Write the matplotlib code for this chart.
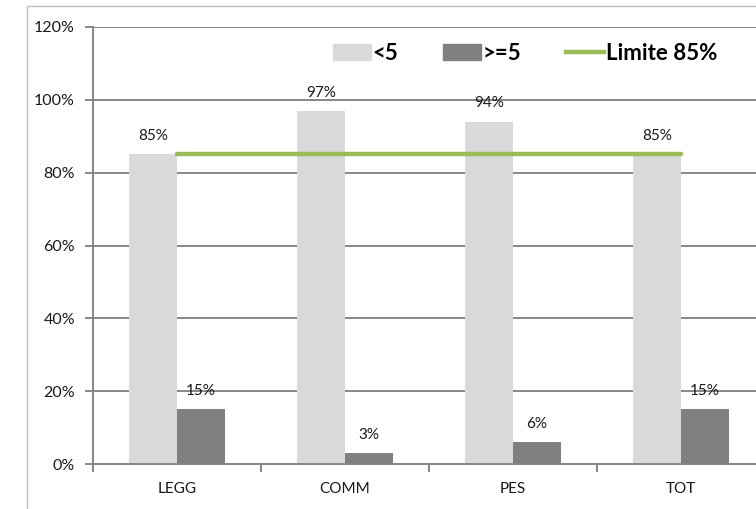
import matplotlib
matplotlib.use('Agg')
import matplotlib.pyplot as plt
from matplotlib.patches import Rectangle, Patch
from matplotlib.lines import Line2D
import numpy as np

# groups and shares (percent)
categories = ['LEGG', 'COMM', 'PES', 'TOT']
under5 = [85, 97, 94, 85]
over5 = [15, 3, 6, 15]
limit = 85
series_names = ['<5', '>=5', 'Limite 85%']

plt.rcParams['font.family'] = ['Lato', 'DejaVu Sans']

fig = plt.figure(figsize=(7.56, 5.09), dpi=100)
# plot area runs past the right edge, like the original export
ax = fig.add_axes([93/756, 45/509, 672/756, 437/509])

# outer chart frame
fig.patches.append(Rectangle((27/756, -0.1), 1.0, 1 - 6/509 + 0.1,
                             transform=fig.transFigure, fill=False,
                             edgecolor='#bfbfbf', lw=1.0))

x = np.arange(len(categories))
w = 0.2857
ax.bar(x - w/2, under5, w, color='#d9d9d9', zorder=2)
ax.bar(x + w/2, over5, w, color='#808080', zorder=2)
ax.plot([x[0], x[-1]], [limit, limit], color='#9bbb59', lw=3.2,
        solid_capstyle='round', zorder=3)

for xi, v in zip(x - w/2, under5):
    ax.text(xi, v + 5.0, f'{v}%', ha='center', va='center', fontsize=11, color='#1a1a1a')
for xi, v in zip(x + w/2, over5):
    ax.text(xi, v + 5.0, f'{v}%', ha='center', va='center', fontsize=11, color='#1a1a1a')

ax.set_xlim(-0.5, len(categories) - 0.5)
ax.set_ylim(0, 120)
ax.set_yticks(range(0, 121, 20))
ax.set_yticklabels([f'{t}%' for t in range(0, 121, 20)], fontsize=11.5, color='#1a1a1a')
ax.yaxis.grid(True, color='#868686', lw=1.4, zorder=0)
ax.set_axisbelow(True)

ax.set_xticks(x)
ax.set_xticklabels(categories, fontsize=11, color='#1a1a1a')
ax.tick_params(axis='x', length=0, pad=13)
ax.set_xticks(np.arange(-0.5, len(categories)), minor=True)
ax.tick_params(axis='x', which='minor', length=6, color='#868686', width=1.4)
ax.tick_params(axis='y', length=6, color='#868686', width=1.4, pad=7)

for s in ['top', 'right']:
    ax.spines[s].set_visible(False)
for s in ['left', 'bottom']:
    ax.spines[s].set_color('#868686')
    ax.spines[s].set_linewidth(1.4)

handles = [Patch(color='#d9d9d9'), Patch(color='#808080'),
           Line2D([0], [0], color='#9bbb59', lw=3.2)]
leg = ax.legend(handles, series_names, loc='center', bbox_to_anchor=(0.643, 0.94),
                ncol=3, frameon=False, handlelength=1.7, handleheight=0.68,
                handletextpad=0.1, columnspacing=2.0,
                prop={'weight': 'bold', 'size': 16})

fig.savefig('out.png', dpi=100)
